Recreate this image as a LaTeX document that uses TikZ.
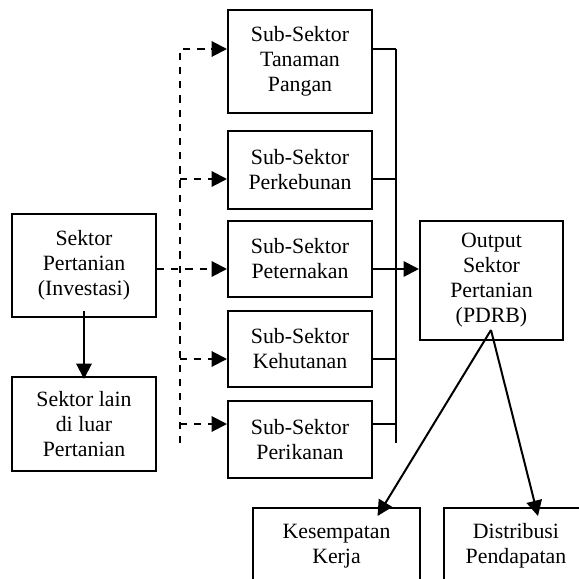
\documentclass[tikz,border=0pt]{standalone}
\usepackage{fontspec}
\setmainfont{Liberation Serif}
\usetikzlibrary{arrows.meta,calc}

\begin{document}
\begin{tikzpicture}[x=0.55pt,y=-0.55pt,
  box/.style={draw=black,line width=1.1pt,align=center,minimum width=79.2pt,
    inner sep=0pt,font=\fontsize{12}{13.75}\selectfont},
  link/.style={draw=black,line width=1.1pt},
  dlink/.style={link,dash pattern=on 4pt off 3.8pt},
  tip/.style={-{Triangle[length=8.5pt,width=8.5pt]}}]
\clip (0,0) rectangle (579,579);

\node[box,minimum height=56.7pt] (tanaman) at (300,61.5) {Sub-Sektor\\Tanaman\\Pangan};
\node[box,minimum height=42.9pt] (kebun) at (300,170) {Sub-Sektor\\Perkebunan};
\node[box,minimum height=41.8pt] (ternak) at (300,259) {Sub-Sektor\\Peternakan};
\node[box,minimum height=41.8pt] (hutan) at (300,349) {Sub-Sektor\\Kehutanan};
\node[box,minimum height=42.4pt] (ikan) at (300,439.5) {Sub-Sektor\\Perikanan};

\node[box,minimum height=56.7pt] (investasi) at (84,265.5) {Sektor\\Pertanian\\(Investasi)};
\node[box,minimum height=51.7pt] (lain) at (84,424) {Sektor lain\\di luar\\Pertanian};

\node[box,minimum width=78.7pt,minimum height=65.5pt] (output) at (491.5,280.5)
  {Output\\Sektor\\Pertanian\\(PDRB)};

\node[box,minimum width=91.9pt,minimum height=41.8pt] (kerja) at (336.5,546) {Kesempatan\\Kerja};
\node[box,minimum height=41.8pt] (distribusi) at (516,546) {Distribusi\\Pendapatan};

\coordinate (dtop) at (180,49);
\coordinate (dbot) at (180,443);
\coordinate (ctop) at (396,49);
\coordinate (cbot) at (396,443);
\coordinate (pdrb) at (491,330);

% investasi ke sub-sektor
\draw[dlink,tip] (dbot) -- (dtop) -- (tanaman.west |- dtop);
\foreach \sub/\y in {kebun/179,hutan/359,ikan/424}
  \draw[dlink,tip] (dtop |- 0,\y) -- (\sub.west |- 0,\y);
\draw[dlink,tip] (investasi.east |- 0,269) -- (ternak.west |- 0,269);

% sub-sektor ke output
\draw[link] (ctop) -- (cbot);
\foreach \sub/\y in {tanaman/49,kebun/179,hutan/359,ikan/424}
  \draw[link] (\sub.east |- 0,\y) -- (ctop |- 0,\y);
\draw[link,tip] (ternak.east |- 0,269) -- (output.west |- 0,269);

\draw[link,tip] ($(investasi.south)+(0,-7)$) -- ($(lain.north)+(0,3)$);
\draw[link,tip] (pdrb) -- ($(kerja.north)+(41,9)$);
\draw[link,tip] (pdrb) -- ($(distribusi.north)+(22,9)$);
\end{tikzpicture}
\end{document}
